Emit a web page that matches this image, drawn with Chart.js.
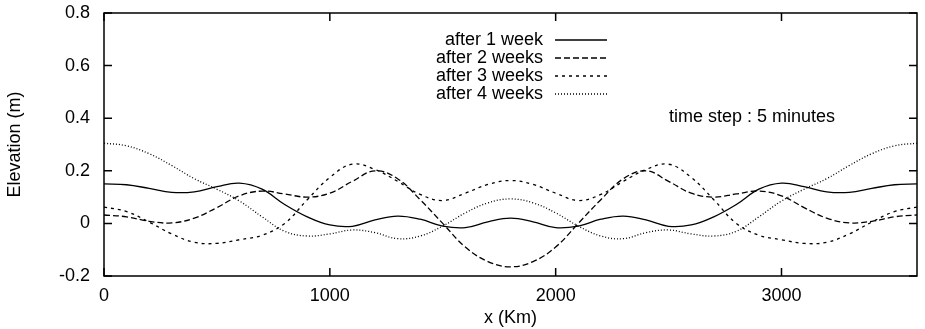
<!DOCTYPE html>
<html>
<head>
<meta charset="utf-8">
<script src="https://cdn.jsdelivr.net/npm/chart.js@4.4.0/dist/chart.umd.min.js"></script>
<style>
  html, body { margin: 0; padding: 0; background: #fff; }
  #wrap { width: 925px; height: 329px; position: relative; }
</style>
</head>
<body>
<div id="wrap"><canvas id="myChart" width="925" height="329"></canvas></div>
<script>
'use strict';
// x positions in km
let xKm = [0, 100, 200, 300, 400, 500, 600, 700, 800, 900, 1000, 1100, 1200, 1300, 1400, 1500, 1600, 1700, 1800,
  1900, 2000, 2100, 2200, 2300, 2400, 2500, 2600, 2700, 2800, 2900, 3000, 3100, 3200, 3300, 3400, 3500, 3600];

let week1 = [0.150, 0.147, 0.133, 0.118, 0.120, 0.140, 0.153, 0.130, 0.072, 0.025, -0.006, -0.011, 0.013, 0.028, 0.016, -0.010, -0.016, 0.006, 0.020,
  0.006, -0.016, -0.010, 0.016, 0.028, 0.013, -0.011, -0.006, 0.025, 0.072, 0.130, 0.153, 0.140, 0.120, 0.118, 0.133, 0.147, 0.150];

let week2 = [0.032, 0.025, 0.008, 0.002, 0.020, 0.060, 0.105, 0.123, 0.112, 0.100, 0.115, 0.160, 0.200, 0.170, 0.090, 0.000, -0.090, -0.145, -0.165,
  -0.145, -0.090, 0.000, 0.090, 0.170, 0.200, 0.160, 0.115, 0.100, 0.112, 0.123, 0.105, 0.060, 0.020, 0.002, 0.008, 0.025, 0.032];

let week3 = [0.062, 0.045, 0.005, -0.040, -0.072, -0.076, -0.062, -0.045, 0.000, 0.090, 0.175, 0.225, 0.205, 0.160, 0.110, 0.087, 0.115, 0.148, 0.163,
  0.148, 0.115, 0.087, 0.110, 0.160, 0.205, 0.225, 0.175, 0.090, 0.000, -0.045, -0.062, -0.076, -0.072, -0.040, 0.005, 0.045, 0.062];

let week4 = [0.305, 0.295, 0.265, 0.220, 0.170, 0.130, 0.085, 0.025, -0.030, -0.048, -0.040, -0.025, -0.035, -0.058, -0.048, -0.010, 0.040, 0.078, 0.093,
  0.078, 0.040, -0.010, -0.048, -0.058, -0.035, -0.025, -0.040, -0.048, -0.030, 0.025, 0.085, 0.130, 0.170, 0.220, 0.265, 0.295, 0.305];

let seriesNames = ['after 1 week', 'after 2 weeks', 'after 3 weeks', 'after 4 weeks'];
let seriesDash = [[], [6, 3], [3, 4], [1, 2]];
let xTicks = [0, 1000, 2000, 3000];
let yTicks = [-0.2, 0, 0.2, 0.4, 0.6, 0.8];
let yTickLabels = ['-0.2', '0', '0.2', '0.4', '0.6', '0.8'];
let noteText = 'time step : 5 minutes';

let allSeries = [week1, week2, week3, week4];
let FONT = 'Liberation Sans, Arial, Helvetica, sans-serif';

function toPoints(values){
  let pts = [];
  for (let i = 0; i < xKm.length; i++){
    pts.push({x: xKm[i], y: values[i]});
  }
  return pts;
}

let datasets = [];
for (let i = 0; i < allSeries.length; i++){
  datasets.push({
    label: seriesNames[i],
    data: toPoints(allSeries[i]),
    borderColor: '#000',
    borderWidth: 1.3,
    borderDash: seriesDash[i],
    pointRadius: 0,
    tension: 0.4,
    fill: false
  });
}

// gnuplot style frame, inward ticks, legend and note
let framePlugin = {
  id: 'frame',
  afterDraw(chart){
    let ctx = chart.ctx;
    let a = chart.chartArea;
    let xs = chart.scales.x;
    let ys = chart.scales.y;
    ctx.save();
    ctx.strokeStyle = '#000';
    ctx.lineWidth = 1.5;
    ctx.setLineDash([]);
    ctx.strokeRect(a.left, a.top, a.right - a.left, a.bottom - a.top);
    let tl = 8;
    ctx.beginPath();
    for (let i = 0; i < yTicks.length; i++){
      let py = ys.getPixelForValue(yTicks[i]);
      ctx.moveTo(a.left, py); ctx.lineTo(a.left + tl, py);
      ctx.moveTo(a.right, py); ctx.lineTo(a.right - tl, py);
    }
    for (let i = 0; i < xTicks.length; i++){
      let px = xs.getPixelForValue(xTicks[i]);
      ctx.moveTo(px, a.bottom); ctx.lineTo(px, a.bottom - tl);
      ctx.moveTo(px, a.top); ctx.lineTo(px, a.top + tl);
    }
    ctx.stroke();

    // legend
    ctx.font = '18px ' + FONT;
    ctx.fillStyle = '#000';
    ctx.textAlign = 'right';
    ctx.textBaseline = 'middle';
    ctx.lineWidth = 1.3;
    for (let i = 0; i < seriesNames.length; i++){
      let ly = 40 + i * 18;
      ctx.fillText(seriesNames[i], 543, ly);
      ctx.setLineDash(seriesDash[i]);
      ctx.beginPath();
      ctx.moveTo(555, ly);
      ctx.lineTo(607, ly);
      ctx.stroke();
    }
    ctx.setLineDash([]);
    ctx.textAlign = 'left';
    ctx.fillText(noteText, 669, 117);
    ctx.restore();
  }
};

let ctx = document.getElementById('myChart').getContext('2d');
let myChart = new Chart(ctx, {
  type: 'line',
  data: { datasets: datasets },
  plugins: [framePlugin],
  options: {
    responsive: false,
    animation: false,
    layout: { padding: { top: 13, right: 8, left: 0, bottom: 0 } },
    plugins: { legend: { display: false }, tooltip: { enabled: false } },
    scales: {
      x: {
        type: 'linear',
        min: 0,
        max: 3600,
        afterBuildTicks: function(scale){ scale.ticks = xTicks.map(function(v){ return {value: v}; }); },
        afterFit: function(scale){ scale.height = 53; scale.paddingLeft = 0; scale.paddingRight = 0; },
        grid: { display: false, drawTicks: false },
        border: { display: false },
        ticks: {
          color: '#000',
          font: { size: 18, family: FONT },
          padding: 9,
          maxRotation: 0,
          callback: function(value){ return String(value); }
        },
        title: { display: true, text: 'x (Km)', color: '#000', font: { size: 18, family: FONT }, padding: { top: 0, bottom: 0 } }
      },
      y: {
        min: -0.2,
        max: 0.8,
        afterBuildTicks: function(scale){ scale.ticks = yTicks.map(function(v){ return {value: v}; }); },
        afterFit: function(scale){ scale.width = 104; scale.paddingTop = 0; scale.paddingBottom = 0; },
        grid: { display: false, drawTicks: false },
        border: { display: false },
        ticks: {
          color: '#000',
          font: { size: 18, family: FONT },
          padding: 14,
          callback: function(value){ return yTickLabels[yTicks.indexOf(value)]; }
        },
        title: { display: true, text: 'Elevation (m)', color: '#000', font: { size: 18, family: FONT }, padding: { top: 4, bottom: 0 } }
      }
    }
  }
});
</script>
</body>
</html>
